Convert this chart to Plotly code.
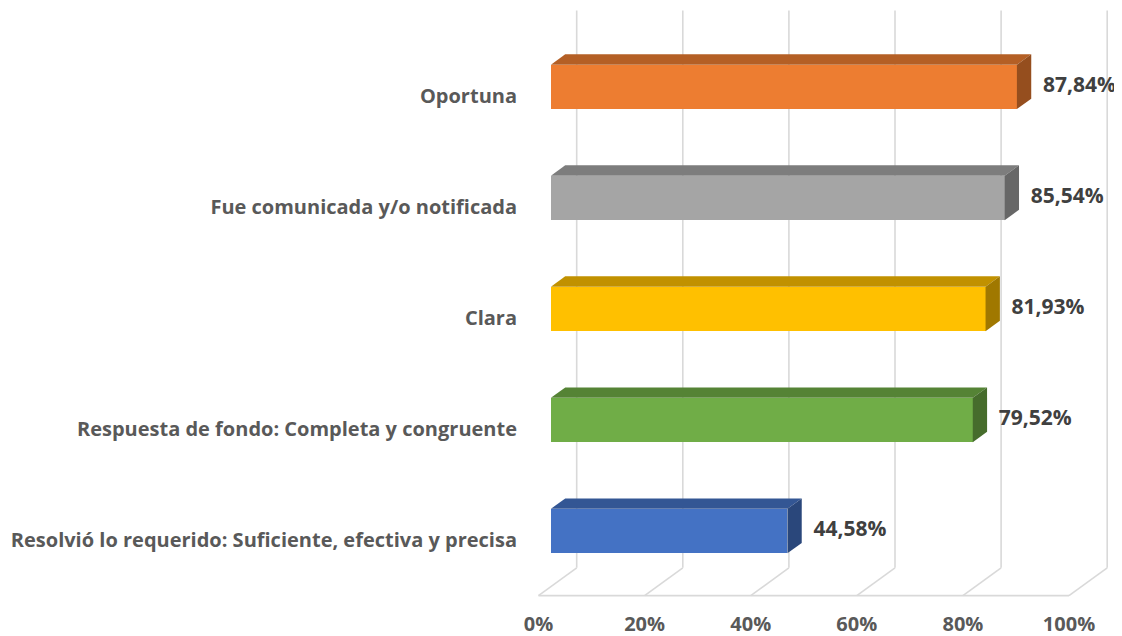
import plotly.graph_objects as go

# ---------------- data ----------------
categories = [
    "Resolvió lo requerido: Suficiente, efectiva y precisa",
    "Respuesta de fondo: Completa y congruente",
    "Clara",
    "Fue comunicada y/o notificada",
    "Oportuna",
]
values = [44.58, 79.52, 81.93, 85.54, 87.84]
colors = ["#4472C4", "#70AD47", "#FFC000", "#A5A5A5", "#ED7D31"]
x_ticks = [0, 20, 40, 60, 80, 100]
x_tick_labels = ["0%", "20%", "40%", "60%", "80%", "100%"]

# ---------------- oblique 3-D projection parameters ----------------
DX = 7.2      # x shift (percent units) from front to back of the floor
DY = 0.25     # y shift (category units) from front to back of the floor
D0, D1 = 0.325, 0.70   # bar depth range (fraction of floor depth)
HALF = 0.2    # half bar thickness (gap width 150 %)
FLOOR = -0.5
WALL_TOP = 4.77
GRID = "#D9D9D9"
FONT = "Open Sans"


def shade(hex_color, f):
    h = hex_color.lstrip("#")
    r, g, b = (int(h[i:i + 2], 16) for i in (0, 2, 4))
    return "#%02X%02X%02X" % (int(r * f), int(g * f), int(b * f))


fig = go.Figure()

# gridlines (drawn beneath all traces): back wall verticals, floor diagonals, front edge
grid_line = dict(color=GRID, width=1.6)
for t in x_ticks:
    fig.add_shape(type="line", x0=t, y0=FLOOR, x1=t + DX, y1=FLOOR + DY,
                  xref="x", yref="y", line=grid_line, layer="below")
    fig.add_shape(type="line", x0=t + DX, y0=FLOOR + DY, x1=t + DX, y1=WALL_TOP,
                  xref="x", yref="y", line=grid_line, layer="below")
fig.add_shape(type="line", x0=x_ticks[0], y0=FLOOR, x1=x_ticks[-1], y1=FLOOR,
              xref="x", yref="y", line=grid_line, layer="below")

ypos = list(range(len(categories)))
sx0, sy0 = D0 * DX, D0 * DY
sx1, sy1 = D1 * DX, D1 * DY

# front faces
fig.add_trace(go.Bar(
    x=values, y=[p + sy0 for p in ypos], base=sx0, orientation="h",
    width=2 * HALF, marker=dict(color=colors, line=dict(width=0)),
    hoverinfo="skip", showlegend=False))

# top & side faces
for i, (v, c) in enumerate(zip(values, colors)):
    yc = ypos[i]
    top_x = [sx0, v + sx0, v + sx1, sx1, sx0]
    top_y = [yc + sy0 + HALF, yc + sy0 + HALF, yc + sy1 + HALF, yc + sy1 + HALF, yc + sy0 + HALF]
    fig.add_trace(go.Scatter(x=top_x, y=top_y, mode="lines", fill="toself",
                             fillcolor=shade(c, 0.76), line=dict(width=0),
                             hoverinfo="skip", showlegend=False))
    side_x = [v + sx0, v + sx0, v + sx1, v + sx1, v + sx0]
    side_y = [yc + sy0 - HALF, yc + sy0 + HALF, yc + sy1 + HALF, yc + sy1 - HALF, yc + sy0 - HALF]
    fig.add_trace(go.Scatter(x=side_x, y=side_y, mode="lines", fill="toself",
                             fillcolor=shade(c, 0.63), line=dict(width=0),
                             hoverinfo="skip", showlegend=False))

# value labels
fig.add_trace(go.Scatter(
    x=[v + sx1 + 2.2 for v in values],
    y=[p + sy0 for p in ypos],
    mode="text",
    text=[f"{v:.2f}".replace(".", ",") + "%" for v in values],
    textposition="middle right",
    textfont=dict(family=FONT, size=21, color="#404040", weight="bold"),
    hoverinfo="skip", showlegend=False))

# page has an 8 px body margin, so the figure is 8 px smaller each way
W, H = 1114, 628
L, B = 520, 26
PXX = 5.305          # pixels per percent
PXY = 111.05         # pixels per category
FRONT0_X = 530.5     # pixel x of 0 % on front floor edge
CAT0_Y = 532.1       # pixel y of first category on front plane
x0 = -(FRONT0_X - L) / PXX
x1 = x0 + (W - L) / PXX
y_top = CAT0_Y / PXY
y_bot = (CAT0_Y - (H - B)) / PXY

fig.update_layout(
    width=W, height=H,
    margin=dict(l=L, r=0, t=0, b=B, autoexpand=False),
    paper_bgcolor="white", plot_bgcolor="white",
    font=dict(family=FONT, color="#595959"),
    xaxis=dict(range=[x0, x1], showgrid=False, zeroline=False, showline=False,
               automargin=False,
               tickvals=x_ticks, ticktext=x_tick_labels,
               tickfont=dict(family=FONT, size=20, color="#595959", weight="bold")),
    yaxis=dict(range=[y_bot, y_top], showgrid=False, zeroline=False, showline=False,
               automargin=False,
               tickvals=ypos, ticktext=categories, ticklabelstandoff=10,
               tickfont=dict(family=FONT, size=20, color="#595959", weight="bold")),
    bargap=0,
)

fig.write_html("out.html")
